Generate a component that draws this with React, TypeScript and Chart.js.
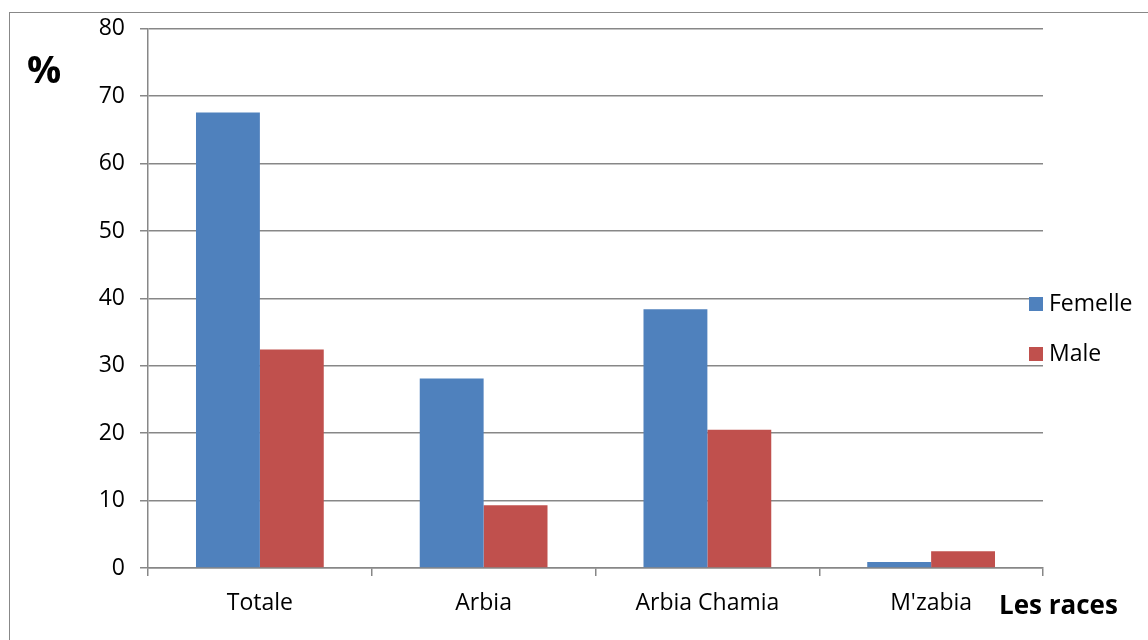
import React, { useEffect, useRef } from "react";
import { Chart, registerables } from "chart.js";

Chart.register(...registerables);

const categories = ["Totale", "Arbia", "Arbia Chamia", "M'zabia"];
const femelle = [67.6, 28.1, 38.4, 0.9];
const male = [32.4, 9.3, 20.5, 2.5];
const yTicks = [0, 10, 20, 30, 40, 50, 60, 70, 80];
const seriesNames = ["Femelle", "Male"];
const yTitle = "%";
const xTitle = "Les races";

const BLUE = "#4f81bd";
const RED = "#c0504d";
const GRID = "#878787";
const FONT = "'Open Sans', sans-serif";

const overlay = {
  id: "overlay",
  afterDraw(chart: any) {
    const ctx = chart.ctx;
    const area = chart.chartArea;
    ctx.save();
    ctx.fillStyle = "#000";
    ctx.font = `bold 38px ${FONT}`;
    ctx.textAlign = "left";
    ctx.textBaseline = "middle";
    ctx.fillText(yTitle, 27, 72);
    ctx.font = `bold 26px ${FONT}`;
    ctx.fillText(xTitle, 999, 607);
    const colors = [BLUE, RED];
    const ys = [304, 354];
    ctx.font = `23px ${FONT}`;
    seriesNames.forEach((n, i) => {
      ctx.fillStyle = colors[i];
      ctx.fillRect(area.right - 14, ys[i] - 7, 14, 14);
      ctx.fillStyle = "#000";
      ctx.fillText(n, area.right + 6, ys[i]);
    });
    ctx.restore();
  },
};

export default function App() {
  const ref = useRef<HTMLCanvasElement>(null);
  useEffect(() => {
    if (!ref.current) return;
    const chart = new Chart(ref.current, {
      type: "bar",
      data: {
        labels: categories,
        datasets: [
          { label: seriesNames[0], data: femelle, backgroundColor: BLUE, borderWidth: 0 },
          { label: seriesNames[1], data: male, backgroundColor: RED, borderWidth: 0 },
        ],
      },
      options: {
        animation: false,
        responsive: false,
        devicePixelRatio: 1,
        layout: { padding: { top: 28, right: 105, left: 0, bottom: 0 } },
        plugins: { legend: { display: false }, tooltip: { enabled: false } },
        datasets: { bar: { categoryPercentage: 0.571, barPercentage: 1 } },
        scales: {
          x: {
            offset: true,
            grid: {
              offset: true,
              drawOnChartArea: false,
              drawTicks: true,
              tickLength: 8,
              color: GRID,
              lineWidth: 1.5,
            },
            border: { color: GRID, width: 1.5 },
            ticks: { color: "#000", font: { family: FONT, size: 23 }, padding: 14 },
            afterFit(scale: any) {
              scale.height = 72;
            },
          },
          y: {
            min: 0,
            max: 80,
            afterBuildTicks(scale: any) {
              scale.ticks = yTicks.map((v) => ({ value: v }));
            },
            grid: { color: GRID, lineWidth: 1.5, tickLength: 8 },
            border: { color: GRID, width: 1.5 },
            ticks: { color: "#000", font: { family: FONT, size: 23 }, padding: 15 },
            afterFit(scale: any) {
              scale.width = 148;
            },
          },
        },
      },
      plugins: [overlay],
    });
    return () => chart.destroy();
  }, []);
  return (
    <div style={{ position: "fixed", left: 0, top: 0, width: 1148, height: 640, overflow: "hidden", background: "#fff" }}>
      <div
        style={{
          position: "absolute",
          left: 9,
          top: 12,
          width: 1300,
          height: 800,
          border: "1.5px solid #888",
        }}
      />
      <canvas ref={ref} width={1148} height={640} style={{ position: "absolute", left: 0, top: 0 }} />
    </div>
  );
}
